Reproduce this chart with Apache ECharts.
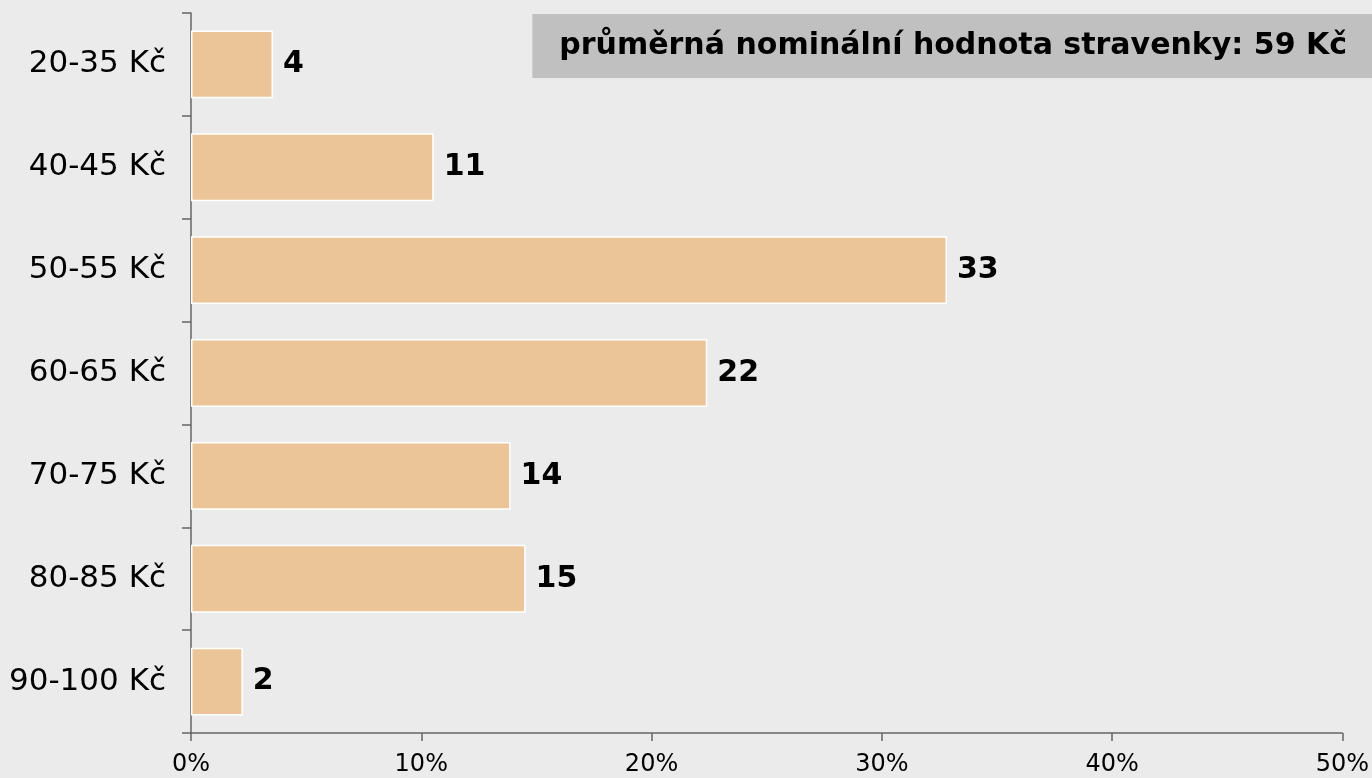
<!DOCTYPE html>
<html>
<head>
<meta charset="utf-8">
<script src="https://cdn.jsdelivr.net/npm/echarts@6/dist/echarts.min.js"></script>
<style>
  html, body { margin: 0; padding: 0; background: #ebebeb; }
  #chart { width: 1372px; height: 778px; }
</style>
</head>
<body>
<div id="chart"></div>
<script>
// kategorie nominální hodnoty stravenky (shora dolů)
const categories = ['20-35 Kč', '40-45 Kč', '50-55 Kč', '60-65 Kč', '70-75 Kč', '80-85 Kč', '90-100 Kč']
// podíl v procentech
const shares = [3.56, 10.54, 32.83, 22.42, 13.88, 14.53, 2.25]
const titleText = 'průměrná nominální hodnota stravenky: 59 Kč'

const chart = echarts.init(document.getElementById('chart'))
const font = 'DejaVu Sans'

chart.setOption({
  backgroundColor: '#ebebeb',
  animation: false,
  title: {
    text: titleText,
    right: 0,
    top: 14,
    padding: [14, 25, 14, 27],
    backgroundColor: '#c0c0c0',
    textStyle: { fontFamily: font, fontSize: 30, lineHeight: 36, fontWeight: 'bold', color: '#000' }
  },
  grid: { left: 191, right: 29, top: 13, bottom: 45 },
  xAxis: {
    type: 'value',
    min: 0,
    max: 50,
    interval: 10,
    splitLine: { show: false },
    axisLine: { show: true, lineStyle: { color: '#666', width: 1.5 } },
    axisTick: { show: true, length: 8, lineStyle: { color: '#666', width: 1.5 } },
    axisLabel: { fontFamily: font, fontSize: 24, color: '#000', margin: 20, formatter: '{value}%' }
  },
  yAxis: {
    type: 'category',
    inverse: true,
    data: categories,
    axisLine: { show: true, lineStyle: { color: '#666', width: 1.5 } },
    axisTick: { show: true, length: 9, lineStyle: { color: '#666', width: 1.5 } },
    axisLabel: { fontFamily: font, fontSize: 31, color: '#000', margin: 25 }
  },
  series: [{
    type: 'bar',
    data: shares,
    barWidth: '66%',
    itemStyle: { color: '#ebc497', borderColor: '#fff', borderWidth: 1.5 },
    label: {
      show: true,
      position: 'right',
      distance: 10,
      fontFamily: font,
      fontSize: 30,
      fontWeight: 'bold',
      color: '#000',
      formatter: p => Math.round(p.value)
    }
  }]
})
</script>
</body>
</html>
